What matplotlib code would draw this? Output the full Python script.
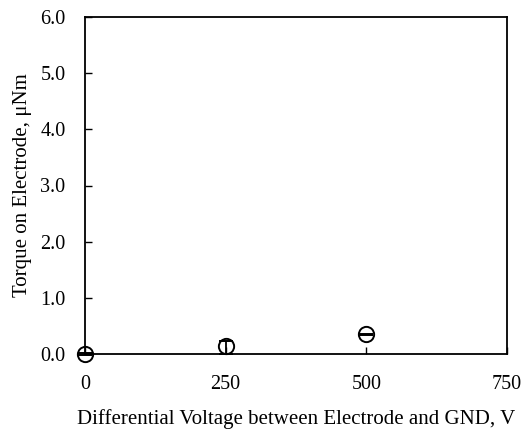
import matplotlib
matplotlib.use('Agg')
import matplotlib.pyplot as plt

voltage = [0, 250, 500]
torque = [0.0, 0.15, 0.35]
err_low = [0.01, 0.15, 0.01]
err_high = [0.01, 0.08, 0.01]

plt.rcParams['font.family'] = 'Liberation Serif'
plt.rcParams['font.size'] = 14.5

fig = plt.figure(figsize=(5.23, 4.34), dpi=100)
ax = fig.add_axes([85 / 523, 1 - 354 / 434, 422 / 523, 337 / 434])

ax.errorbar(voltage, torque, yerr=[err_low, err_high], fmt='o', mfc='none', mec='black',
            mew=1.4, ms=11, ecolor='black', elinewidth=1.3, capsize=5, capthick=1.3,
            clip_on=False, zorder=3)

ax.set_xlim(0, 750)
ax.set_ylim(0, 6)
ax.set_xticks([0, 250, 500, 750])
ax.set_yticks([0, 1, 2, 3, 4, 5, 6])
ax.set_yticklabels(['%.1f' % v for v in ax.get_yticks()])
ax.tick_params(direction='in', length=5, width=1)
ax.tick_params(axis='x', pad=15)
ax.tick_params(axis='y', pad=14)
for s in ax.spines.values():
    s.set_linewidth(1.3)

ax.set_xlabel('Differential Voltage between Electrode and GND, V', fontsize=15, labelpad=11)
ax.set_ylabel('Torque on Electrode, μNm', fontsize=15, labelpad=6)

fig.savefig('out.png', dpi=100)
